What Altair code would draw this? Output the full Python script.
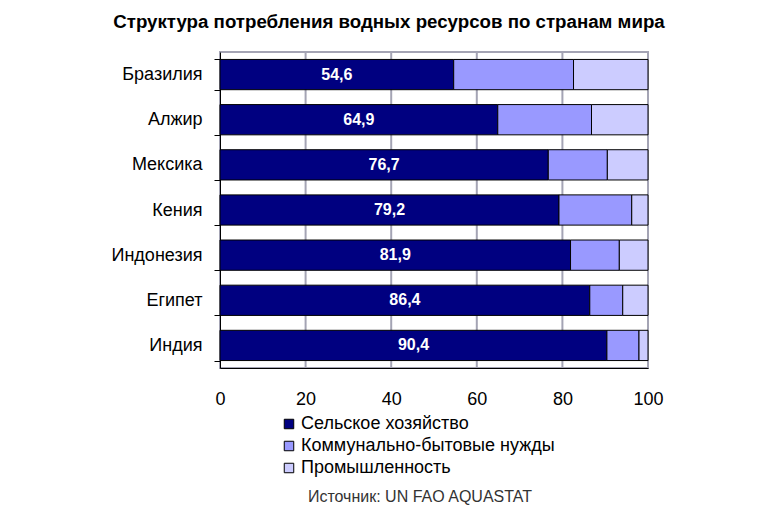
import altair as alt
import pandas as pd

countries = ["Бразилия", "Алжир", "Мексика", "Кения", "Индонезия", "Египет", "Индия"]
agri = [54.6, 64.9, 76.7, 79.2, 81.9, 86.4, 90.4]
municipal = [28.0, 21.9, 13.8, 17.0, 11.4, 7.7, 7.5]
industry = [17.4, 13.2, 9.5, 3.8, 6.7, 5.9, 2.1]
sectors = ["Сельское хозяйство", "Коммунально-бытовые нужды", "Промышленность"]
colors = ["#000080", "#9999ff", "#ccccff"]
x_ticks = [0, 20, 40, 60, 80, 100]

rows = []
for i, c in enumerate(countries):
    for j, (s, v) in enumerate(zip(sectors, [agri[i], municipal[i], industry[i]])):
        rows.append({"country": c, "sector": s, "value": v, "order": j})
df = pd.DataFrame(rows)

lab = pd.DataFrame({
    "country": countries,
    "half": [a / 2 for a in agri],
    "label": [f"{a:.1f}".replace(".", ",") for a in agri],
})

x_axis = alt.Axis(values=x_ticks, labelFontSize=18, labelColor="#000",
                  labelFont="Liberation Sans", ticks=False,
                  domainColor="#000", grid=False,
                  labelPadding=22, labelFlush=False)
y_axis = alt.Axis(tickBand="extent", labelFontSize=18, labelColor="#000",
                  labelFont="Liberation Sans", tickSize=6, tickColor="#000",
                  domainColor="#000", labelPadding=12, grid=False)
x_scale = alt.Scale(domain=[0, 100], nice=False)
y_scale = alt.Scale(paddingInner=0.33, paddingOuter=0.165)

gridlines = alt.Chart(pd.DataFrame({"tick": x_ticks[1:]})).mark_rule(
    color="#a4a4b4", strokeWidth=2).encode(
    x=alt.X("tick:Q", scale=x_scale, axis=x_axis, title=None),
    y=alt.value(0), y2=alt.value(316))

bars = alt.Chart(df).mark_bar(stroke="#000", strokeWidth=1).encode(
    x=alt.X("value:Q", stack="zero", title=None, scale=x_scale, axis=x_axis),
    y=alt.Y("country:N", sort=countries, title=None, scale=y_scale, axis=y_axis),
    color=alt.Color("sector:N", scale=alt.Scale(domain=sectors, range=colors),
                    legend=alt.Legend(title=None, orient="none", legendX=60, legendY=363,
                                      symbolType="square", symbolSize=90,
                                      symbolStrokeColor="#000", symbolStrokeWidth=1,
                                      labelFontSize=18, labelFont="Liberation Sans",
                                      labelColor="#000", rowPadding=4, labelOffset=3,
                                      labelLimit=500)),
    order=alt.Order("order:Q"),
)

texts = alt.Chart(lab).mark_text(color="white", fontWeight="bold", fontSize=16,
                                 font="Liberation Sans").encode(
    x=alt.X("half:Q", scale=x_scale, axis=x_axis, title=None),
    y=alt.Y("country:N", sort=countries, scale=y_scale, axis=y_axis, title=None),
    text="label:N",
)

source = alt.Chart(pd.DataFrame({"t": ["Источник: UN FAO AQUASTAT"]})).mark_text(
    fontSize=16, font="Liberation Sans", color="#333").encode(
    x=alt.value(200), y=alt.value(445), text="t:N")

chart = alt.layer(gridlines, bars, texts, source).properties(
    width=428, height=316,
    title=alt.TitleParams("Структура потребления водных ресурсов по странам мира",
                          font="Liberation Sans", fontSize=18.7, fontWeight="bold",
                          color="#000", anchor="middle", dx=-45, offset=11),
    autosize=alt.AutoSizeParams(type="none"),
    padding={"left": 220, "top": 52, "right": 122, "bottom": 156},
).configure(background="white").configure_view(stroke="#a4a4b4", strokeWidth=2)

chart.save("out.html", embed_options={"renderer": "svg", "actions": False})
